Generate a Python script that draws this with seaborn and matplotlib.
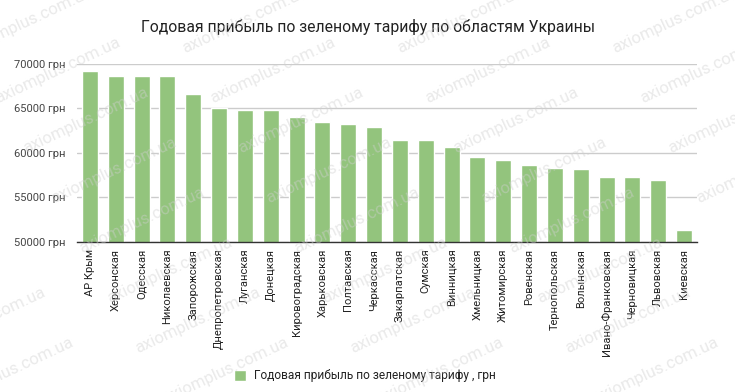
import matplotlib
matplotlib.use("Agg")
import matplotlib.pyplot as plt
import seaborn as sns
import pandas as pd
from matplotlib.ticker import FuncFormatter

regions = ["АР Крым", "Херсонская", "Одесская", "Николаевская", "Запорожская",
           "Днепропетровская", "Луганская", "Донецкая", "Кировоградская", "Харьковская",
           "Полтавская", "Черкасская", "Закарпатская", "Сумская", "Винницкая",
           "Хмельницкая", "Житомирская", "Ровенская", "Тернопольская", "Волынская",
           "Ивано-Франковская", "Черновицкая", "Львовская", "Киевская"]
profit = [69200, 68700, 68700, 68600, 66600,
          65100, 64850, 64850, 64000, 63430,
          63240, 62940, 61470, 61400, 60610,
          59560, 59150, 58590, 58320, 58200,
          57300, 57300, 56930, 51300]
y_ticks = [50000, 55000, 60000, 65000, 70000]
title = "Годовая прибыль по зеленому тарифу по областям Украины"
series_name = "Годовая прибыль по зеленому тарифу , грн"
watermark = "axiomplus.com.ua"

sns.set_theme(style="white")
plt.rcParams['font.family'] = ['Roboto', 'DejaVu Sans']

df = pd.DataFrame({"region": regions, "profit": profit})

fig = plt.figure(figsize=(7.35, 3.92), dpi=100)
ax = fig.add_axes([77/735, 1 - 241.7/392, (697-77)/735, (241.7-64)/392])

sns.barplot(data=df, x="region", y="profit", color="#93c47d", saturation=1,
            width=0.62, label=series_name, ax=ax, zorder=3)

ax.set_ylim(50000, 70000)
ax.set_yticks(y_ticks)
ax.yaxis.set_major_formatter(FuncFormatter(lambda v, p: f"{int(v)} грн"))
ax.set_xlim(-0.5, len(regions) - 0.5)
ax.grid(axis="y", color="#cccccc", linewidth=1, zorder=0)
for s in ["top", "right", "left"]:
    ax.spines[s].set_visible(False)
ax.spines["bottom"].set_color("#333333")
ax.spines["bottom"].set_linewidth(1)
ax.spines["bottom"].set_zorder(4)
ax.set_xlabel("")
ax.set_ylabel("")
ax.tick_params(axis="y", labelsize=8, colors="#444444", length=0, pad=8)
ax.tick_params(axis="x", labelsize=8, colors="#222222", length=0, pad=5)
plt.setp(ax.get_xticklabels(), rotation=90)

fig.text(368/735, 1 - 27/392, title, ha="center", va="center", fontsize=11.3, color="#222222")

ax.legend(loc="center", bbox_to_anchor=(365/735, 1 - 376/392), bbox_transform=fig.transFigure,
          frameon=False, fontsize=8.6, handlelength=1.0, handleheight=1.0, handletextpad=0.7,
          labelcolor="#222222")

# faint tiled watermark (copies that are at least partly visible)
for row in range(0, 9):
    for col in range(-1, 5):
        xc = 30 + col * 215 + row * 28
        yc = 20 + row * 50
        if -40 <= xc <= 775 and -10 <= yc <= 402:
            fig.text(xc/735, 1 - yc/392, watermark, ha="center", va="center", rotation=25,
                     fontsize=12, color="#d0d0d0", alpha=0.45, zorder=10)

fig.savefig("out.png", dpi=100, facecolor="white")
